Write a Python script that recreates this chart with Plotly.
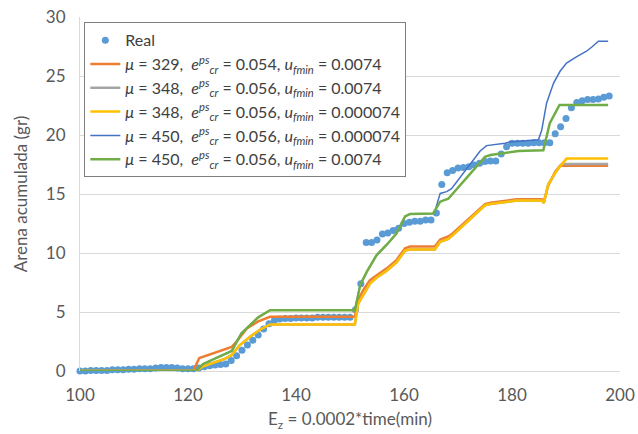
import plotly.graph_objects as go

# Measured accumulated sand (one sample per minute, 100..198)
real_t = list(range(100, 199))
real_v = [
    0.0, 0.0, 0.05, 0.05, 0.05, 0.05, 0.1, 0.1, 0.1, 0.15,
    0.15, 0.2, 0.2, 0.2, 0.25, 0.3, 0.3, 0.3, 0.25, 0.2,
    0.2, 0.2, 0.25, 0.35, 0.45, 0.5, 0.55, 0.6, 0.9, 1.3,
    1.75, 2.2, 2.6, 3.05, 3.55, 4.0, 4.3, 4.4, 4.45, 4.45,
    4.5, 4.5, 4.5, 4.5, 4.55, 4.55, 4.55, 4.55, 4.55, 4.55,
    4.55, 5.2, 7.4, 10.9, 10.9, 11.1, 11.6, 11.7, 11.9, 12.1,
    12.5, 12.6, 12.7, 12.7, 12.8, 12.8, 13.4, 15.8, 16.8, 17.0,
    17.2, 17.25, 17.3, 17.45, 17.6, 17.75, 17.8, 17.8, 18.4, 19.0,
    19.3, 19.3, 19.3, 19.3, 19.35, 19.35, 19.35, 19.35, 20.1, 20.7,
    21.4, 22.3, 22.75, 22.9, 23.0, 23.0, 23.05, 23.2, 23.3,
]

# Simulated runs
s1_t = [100, 121, 122.1, 128.1, 129, 130.9, 133, 135.2, 150.9, 151.5, 152.5, 153.7,
        154.9, 156.8, 158.6, 160.2, 161.1, 165.7, 166.7, 168.2, 169, 175, 176,
        180.9, 185.5, 185.9, 186.7, 188, 188.9, 197.8]
s1_v = [0, 0.05, 1.1, 2.05, 2.5, 3.6, 4.2, 4.6, 4.6, 6.0, 6.9, 7.7,
        8.1, 8.7, 9.4, 10.4, 10.55, 10.55, 11.15, 11.4, 11.65, 14.15, 14.25,
        14.55, 14.55, 14.35, 15.7, 16.9, 17.4, 17.4]

s2_t = [100, 121.5, 122.8, 124.7, 126.9, 128.1, 129.6, 131.5, 133.3, 135.2, 150.9,
        151.5, 152.5, 153.7, 154.9, 156.8, 158.6, 160.2, 161.1, 165.7, 166.7,
        168.2, 169, 175, 176, 180.9, 185.5, 185.9, 186.7, 188.3, 189.2, 197.8]
s2_v = [0, 0, 0.4, 0.7, 1.05, 1.35, 2.2, 2.9, 3.5, 3.95, 3.95,
        5.7, 6.5, 7.4, 7.9, 8.5, 9.2, 10.2, 10.3, 10.3, 10.95,
        11.2, 11.5, 14.05, 14.15, 14.45, 14.45, 14.25, 15.8, 17.0, 17.55, 17.55]

s3_t = [100, 121.5, 122.8, 124.7, 126.9, 128.1, 129.6, 131.5, 133.3, 135.2, 150.9,
        151.5, 152.5, 153.7, 154.9, 156.8, 158.6, 160.2, 161.1, 165.7, 166.7,
        168.2, 169, 175, 176, 180.9, 185.5, 185.9, 186.7, 188.3, 190.1, 197.8]
s3_v = [0, 0, 0.4, 0.7, 1.05, 1.35, 2.2, 2.9, 3.5, 3.95, 3.95,
        5.7, 6.5, 7.4, 7.9, 8.5, 9.2, 10.2, 10.3, 10.3, 10.95,
        11.2, 11.5, 14.05, 14.15, 14.45, 14.45, 14.25, 15.8, 17.0, 18.0, 18.0]

s4_t = [100, 121.5, 122.8, 124.7, 126.9, 128.1, 129.9, 133, 135.2, 150.9, 151.9,
        153.1, 154.9, 156.8, 158.6, 160.2, 161.1, 165.4, 165.7, 166.7, 167.9,
        168.8, 174.1, 175.3, 178.7, 179.6, 184.9, 185.5, 186.4, 187.7, 188.9,
        190.1, 192, 193.8, 194.9, 196, 197.8]
s4_v = [0, 0, 0.6, 1.0, 1.4, 1.7, 3.2, 4.55, 5.15, 5.15, 7.3,
        8.4, 9.8, 10.7, 11.65, 13.1, 13.3, 13.35, 13.5, 15.05, 15.2,
        15.45, 18.65, 19.1, 19.3, 19.4, 19.6, 20.4, 22.7, 24.4, 25.4,
        26.1, 26.65, 27.1, 27.5, 27.95, 27.95]

s5_t = [100, 121.5, 122.8, 124.7, 126.9, 128.1, 129.9, 133, 135.2, 150.9, 151.9,
        153.1, 154.9, 156.8, 158.6, 160.2, 161.1, 165.4, 166.7, 168.2, 175, 176,
        181.2, 185.8, 187, 188.8, 197.8]
s5_v = [0, 0, 0.6, 1.0, 1.4, 1.7, 3.2, 4.55, 5.15, 5.15, 7.3,
        8.4, 9.8, 10.7, 11.65, 13.1, 13.3, 13.35, 14.35, 14.6, 18.15, 18.3,
        18.65, 18.7, 21.0, 22.55, 22.55]

ECR = "<i>e</i><sup><i>ps</i></sup><sub><i>cr</i></sub>"
UF = "<i>u</i><sub><i>fmin</i></sub>"
MU = "<i>μ</i>"
names = [
    f"{MU} = 329,  {ECR} = 0.054, {UF} = 0.0074",
    f"{MU} = 348,  {ECR} = 0.056, {UF} = 0.0074",
    f"{MU} = 348,  {ECR} = 0.056, {UF} = 0.000074",
    f"{MU} = 450,  {ECR} = 0.056, {UF} = 0.000074",
    f"{MU} = 450,  {ECR} = 0.056, {UF} = 0.0074",
]
colors = ["#ED7D31", "#A5A5A5", "#FFC000", "#4472C4", "#70AD47"]
widths = [2.5, 2.5, 2.5, 1.5, 2.5]
series = [(s1_t, s1_v), (s2_t, s2_v), (s3_t, s3_v), (s4_t, s4_v), (s5_t, s5_v)]

fig = go.Figure()
fig.add_trace(go.Scatter(
    x=real_t, y=real_v, mode="markers", name="Real",
    marker=dict(color="#5B9BD5", size=7), cliponaxis=False,
))
for (tx, ty), nm, c, w in zip(series, names, colors, widths):
    fig.add_trace(go.Scatter(x=tx, y=ty, mode="lines", name=nm,
                             line=dict(color=c, width=w)))

FONT = "Lato, 'Open Sans', sans-serif"
fig.update_layout(
    width=638, height=434,
    margin=dict(l=80, r=18, t=17, b=63, autoexpand=False),
    paper_bgcolor="white", plot_bgcolor="white",
    font=dict(family=FONT, color="#595959"),
    showlegend=True,
    legend=dict(
        x=0.008, y=0.985, xanchor="left", yanchor="top",
        bgcolor="white", bordercolor="#7F7F7F", borderwidth=1,
        font=dict(size=16, color="#404040"),
        tracegroupgap=0, itemwidth=30,
    ),
    xaxis=dict(
        range=[100, 200], dtick=20, showgrid=False, zeroline=False,
        showline=False, ticks="", automargin=False,
        tickfont=dict(size=17, color="#595959"), ticklabelstandoff=12,
        title=dict(text="E<sub>z</sub> = 0.0002*time(min)",
                   font=dict(size=17, color="#595959"), standoff=9),
    ),
    yaxis=dict(
        range=[0, 30], dtick=5, showgrid=True, gridcolor="#D9D9D9", gridwidth=1,
        zeroline=True, zerolinecolor="#D9D9D9", zerolinewidth=1,
        showline=True, linecolor="#D9D9D9", linewidth=1, ticks="",
        automargin=False,
        tickfont=dict(size=17, color="#595959"), ticklabelstandoff=10,
        title=dict(text="Arena acumulada (gr)",
                   font=dict(size=17, color="#595959"), standoff=13),
    ),
)

fig.write_html("out.html")
